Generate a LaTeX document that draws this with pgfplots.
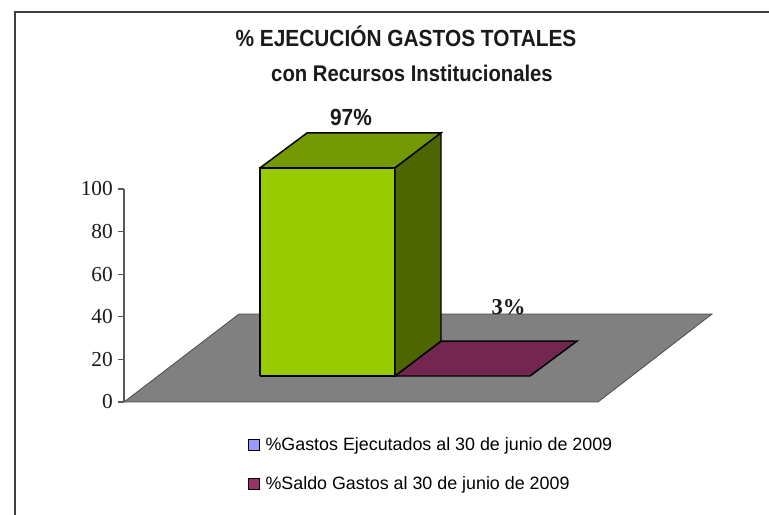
\documentclass[border=0pt]{standalone}
\usepackage{fontspec}
\setmainfont{Liberation Sans}
\newfontfamily\serifnum{Liberation Serif}
\newfontfamily\narrow[FakeStretch=0.894]{Liberation Sans}
\usepackage{pgfplots}
\pgfplotsset{compat=1.18}
\definecolor{floorc}{HTML}{808080}
\definecolor{barfront}{HTML}{99CC00}
\definecolor{bartop}{HTML}{739900}
\definecolor{barside}{HTML}{4D6600}
\definecolor{maroon3d}{HTML}{732650}
\definecolor{legA}{HTML}{9999FF}
\definecolor{legB}{HTML}{993366}
\definecolor{txt}{HTML}{1A1A1A}
\begin{document}
\begin{tikzpicture}[x=0.75pt,y=0.75pt]
\path[use as bounding box] (0,0) rectangle (769,515);
\begin{axis}[
  at={(93pt,84.75pt)}, anchor=south west,
  scale only axis, width=483.75pt, height=159.75pt,
  xmin=124, xmax=769, ymin=0, ymax=100,
  clip=false,
  axis x line=none,
  axis y line=left,
  axis line style={draw=black!65,line width=0.8pt,-},
  y axis line style={-},
  ytick={0,20,40,60,80,100},
  tick align=outside,
  major tick length=4.5pt,
  tick style={draw=black!65,line width=0.8pt},
  yticklabel style={font=\fontsize{16}{18}\selectfont\serifnum,text=txt,inner sep=3.7pt},
  /pgf/number format/assume math mode=true,
  legend cell align=left,
  legend style={draw=none,fill=none,at={(0.192,-0.155)},anchor=north west,
    cells={anchor=west},
    font=\fontsize{13.4}{15}\selectfont,
    row sep=13.8pt,inner sep=0pt,outer sep=0pt},
  legend image code/.code={\draw[#1,line width=1.1pt] (0pt,-4.2pt) rectangle (8pt,4.2pt);},
  legend columns=1,
]
% floor
\addplot[forget plot,fill=floorc,draw=black!70,line width=0.6pt] coordinates {(124,0) (598,0) (712,41.3) (239,41.3) (124,0)};
% value 3 series: flat bar on the floor
\addplot[forget plot,fill=maroon3d,draw=black,line width=1.1pt] coordinates {(395,12.2) (530,12.2) (577,28.6) (441,28.6) (395,12.2)};
% value 97 series: box
\addplot[forget plot,fill=barfront,draw=black,line width=1.1pt] coordinates {(260,12.2) (395,12.2) (395,109.9) (260,109.9) (260,12.2)};
\addplot[forget plot,fill=bartop,draw=black,line width=1.1pt] coordinates {(260,109.9) (395,109.9) (441,126.3) (307,126.3) (260,109.9)};
\addplot[forget plot,fill=barside,draw=black,line width=1.1pt] coordinates {(395,12.2) (441,28.6) (441,126.3) (395,109.9) (395,12.2)};
\addlegendimage{fill=legA,draw=black}
\addlegendentry{\hspace{2.2pt}\%Gastos Ejecutados al 30 de junio de 2009}
\addlegendimage{fill=legB,draw=black}
\addlegendentry{\hspace{2.2pt}\%Saldo Gastos al 30 de junio de 2009}
% frame
\draw[draw=black!75,line width=1.1pt] (axis cs:15,-53.1) -- (axis cs:15,183) -- (axis cs:769,183);
% titles
\node[font=\fontsize{17.5}{19}\selectfont\narrow\bfseries,text=txt,inner sep=0pt] at (axis cs:406,171.5) {\% EJECUCIÓN GASTOS TOTALES};
\node[font=\fontsize{17}{19}\selectfont\narrow\bfseries,text=txt,inner sep=0pt] at (axis cs:412,154.5) {con Recursos Institucionales};
\node[font=\fontsize{17.5}{19}\selectfont\narrow\bfseries,text=txt,inner sep=0pt] at (axis cs:351,133.5) {97\%};
\node[font=\fontsize{17}{18}\selectfont\serifnum\bfseries,text=txt,inner sep=0pt] at (axis cs:508.5,44.5) {3\%};
\end{axis}
\end{tikzpicture}
\end{document}
